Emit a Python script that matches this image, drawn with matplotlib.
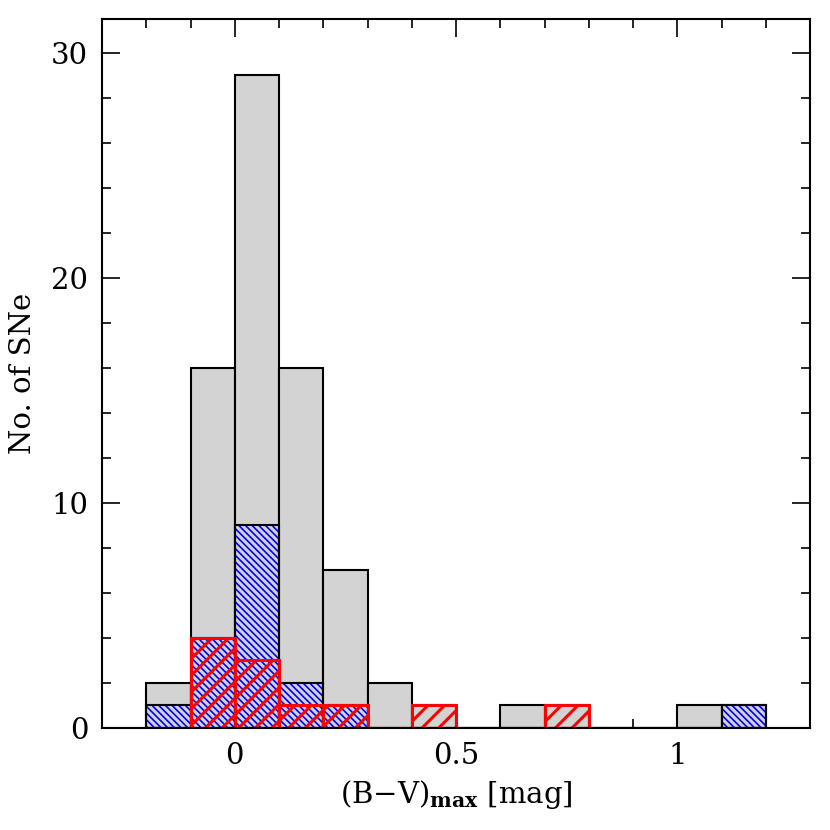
import numpy as np
import matplotlib
matplotlib.use('Agg')
import matplotlib.pyplot as plt
from matplotlib.ticker import MultipleLocator

# bins of width 0.1 in (B-V)max
edges = np.round(np.arange(-0.2, 1.21, 0.1), 2)
# counts per bin (-0.2 ... 1.1)
n_all = [2, 16, 29, 16, 7, 2, 1, 0, 1, 1, 0, 0, 1, 1]
n_blue = [1, 4, 9, 2, 1, 0, 0, 0, 0, 0, 0, 0, 0, 1]
n_red = [0, 4, 3, 1, 1, 0, 1, 0, 0, 1, 0, 0, 0, 0]

plt.rcParams['font.family'] = 'DejaVu Serif'
plt.rcParams['mathtext.fontset'] = 'dejavuserif'

fig = plt.figure(figsize=(8.3, 8.3), dpi=100)
ax = fig.add_axes([0.123, 0.123, 0.853, 0.854])

left = edges[:-1]
w = np.diff(edges)

# all SNe, grey
ax.bar(left, n_all, width=w, align='edge', color='#d3d3d3',
       edgecolor='black', linewidth=1.5, zorder=1)

# blue subsample, hatched
with plt.rc_context({'hatch.linewidth': 1.2}):
    ax.bar(left, n_blue, width=w, align='edge', color='none',
           edgecolor='blue', hatch='\\' * 5, linewidth=0, zorder=2)
ax.bar(left, n_blue, width=w, align='edge', color='none',
       edgecolor='black', linewidth=1.5, zorder=3)

# red subsample, hatched
with plt.rc_context({'hatch.linewidth': 2.2}):
    ax.bar(left, n_red, width=w, align='edge', color='none',
           edgecolor='red', hatch='//', linewidth=2.2, zorder=4)
ax.axhline(0, color='red', linewidth=1.5, zorder=5)

ax.set_xlim(-0.3, 1.3)
ax.set_ylim(0, 31.5)
ax.xaxis.set_major_locator(MultipleLocator(0.5))
ax.xaxis.set_minor_locator(MultipleLocator(0.1))
ax.yaxis.set_major_locator(MultipleLocator(10))
ax.yaxis.set_minor_locator(MultipleLocator(2))
ax.set_xticks([0, 0.5, 1])
ax.set_xticklabels(['0', '0.5', '1'])
ax.tick_params(which='both', direction='in', top=True, right=True,
               labelsize=21, width=1.2, pad=10)
ax.tick_params(which='major', length=13)
ax.tick_params(which='minor', length=6.5)
for s in ax.spines.values():
    s.set_linewidth(1.5)
    s.set_zorder(6)

ax.set_xlabel(r'(B$-$V)$_{\mathbf{max}}$ [mag]', fontsize=21, labelpad=6)
ax.set_ylabel('No. of SNe', fontsize=21, labelpad=10)

plt.savefig('out.png', dpi=100)
